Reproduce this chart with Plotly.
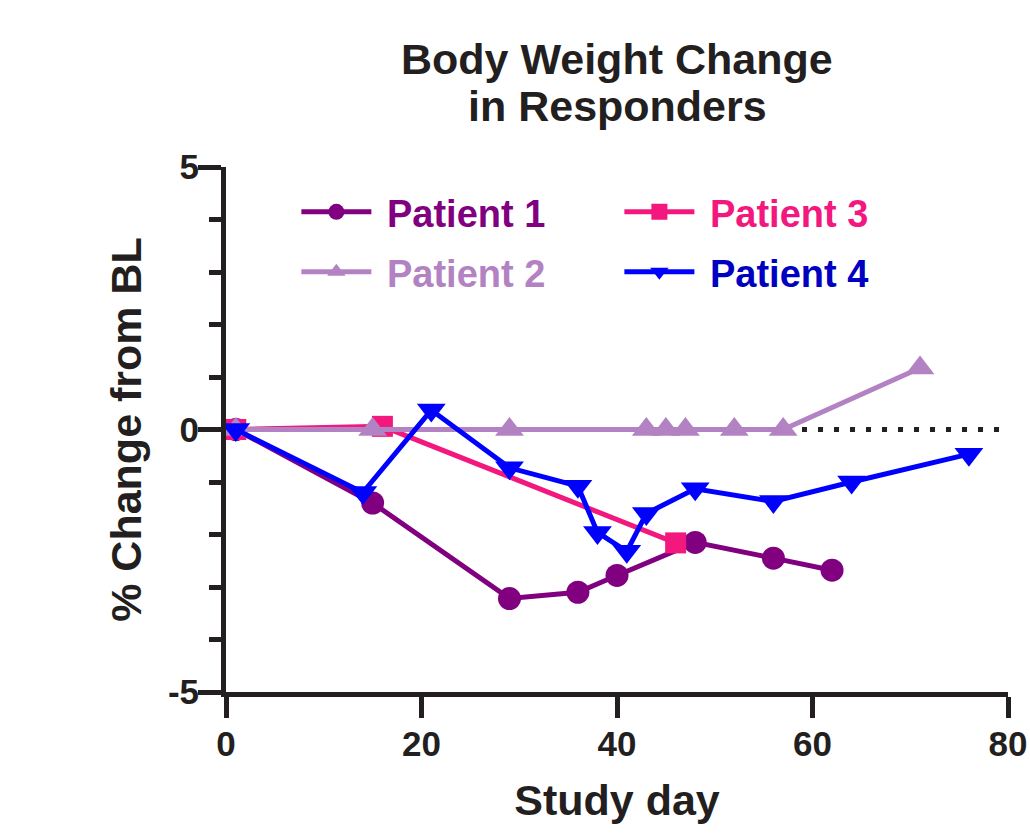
import plotly.graph_objects as go

# Study day and % change in body weight from baseline, per responder
p1_day = [1, 15, 29, 36, 40, 48, 56, 62]
p1_chg = [0.0, -1.40, -3.22, -3.10, -2.78, -2.15, -2.45, -2.68]

p2_day = [1, 15, 29, 43, 45, 47, 52, 57, 71]
p2_chg = [0.0, 0.0, 0.0, 0.0, 0.0, 0.0, 0.0, 0.0, 1.17]

p3_day = [1, 16, 46]
p3_chg = [0.0, 0.06, -2.16]

p4_day = [1, 14, 21, 29, 36, 38, 41, 43, 48, 56, 64, 76]
p4_chg = [0.0, -1.20, 0.37, -0.73, -1.08, -1.96, -2.32, -1.60, -1.13, -1.37, -1.00, -0.47]

x_ticks = [0, 20, 40, 60, 80]
y_ticks = [-5, 0, 5]

title_lines = ["Body Weight Change", "in Responders"]

FONT = "Arial, Liberation Sans, sans-serif"
INK = "#231f20"

# (name, days, values, line colour, label colour, marker symbol, marker size, legend row)
# listed in drawing order, bottom to top
series = [
    ("Patient 1", p1_day, p1_chg, "#800080", "#800080", "circle", 23, "legend"),
    ("Patient 3", p3_day, p3_chg, "#f2187e", "#f2187e", "square", 21, "legend"),
    ("Patient 2", p2_day, p2_chg, "#b382c2", "#b382c2", "triangle-up", 25, "legend2"),
    ("Patient 4", p4_day, p4_chg, "#0000ff", "#0000c0", "triangle-down", 25, "legend2"),
]

fig = go.Figure()

for name, xs, ys, col, txtcol, sym, msize, leg in series:
    fig.add_trace(go.Scatter(
        x=xs, y=ys, mode="lines+markers",
        name=f'<span style="color:{txtcol}">&nbsp;{name}</span>',
        legend=leg,
        line=dict(color=col, width=5),
        marker=dict(symbol=sym, size=msize, color=col, line=dict(width=0)),
    ))

# dotted baseline at zero change
fig.add_shape(type="line", xref="x", yref="y", x0=0, x1=80, y0=0, y1=0,
              line=dict(color=INK, width=5, dash="5px,11px"), layer="below")

axis_common = dict(
    showline=True, linecolor=INK, linewidth=5,
    ticks="outside", tickcolor=INK, tickwidth=5,
    showgrid=False, zeroline=False,
    tickfont=dict(family=FONT, size=35, color=INK, weight="bold"),
)

fig.update_xaxes(
    range=[0, 80], tickvals=x_ticks, ticktext=[str(v) for v in x_ticks],
    ticklen=21, ticklabelstandoff=-4,
    title=dict(text="Study day", standoff=24,
               font=dict(family=FONT, size=43, color=INK, weight="bold")),
    **axis_common,
)
fig.update_yaxes(
    range=[-5, 5], tickvals=y_ticks, ticktext=[str(v) for v in y_ticks],
    ticklen=23, ticklabelstandoff=-8,
    minor=dict(dtick=1, tick0=0, ticks="outside", ticklen=12, tickwidth=5,
               tickcolor=INK, showgrid=False),
    title=dict(text="% Change from BL", standoff=14,
               font=dict(family=FONT, size=43, color=INK, weight="bold")),
    **axis_common,
)

# two-line heading, one annotation per line for tight leading
for text, ypos in zip(title_lines, [1.205, 1.117]):
    fig.add_annotation(text=text, xref="paper", yref="paper", x=0.5, y=ypos,
                       xanchor="center", yanchor="middle", showarrow=False,
                       font=dict(family=FONT, size=43, color=INK, weight="bold"))

legend_common = dict(
    orientation="h", x=0.09, xanchor="left", yanchor="middle",
    xref="paper", yref="paper",
    bgcolor="rgba(0,0,0,0)", borderwidth=0,
    itemwidth=70, entrywidth=238, entrywidthmode="pixels",
    traceorder="normal",
    font=dict(family=FONT, size=38, weight="bold"),
)

fig.update_layout(
    width=1030, height=834,
    margin=dict(l=226, r=22, t=167, b=142, autoexpand=False),
    paper_bgcolor="white", plot_bgcolor="white",
    showlegend=True,
    legend=dict(y=0.914, **legend_common),
    legend2=dict(y=0.800, **legend_common),
)

fig.write_html("out.html")
